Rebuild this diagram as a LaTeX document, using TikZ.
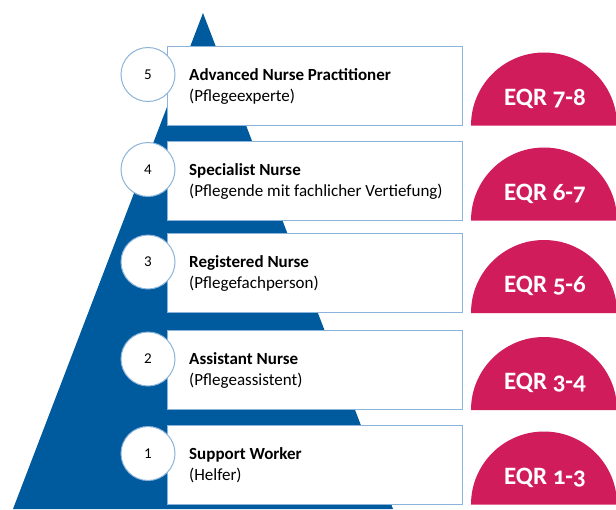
\documentclass[tikz,border=0pt]{standalone}
\usepackage{fontspec}
\setmainfont{Carlito}
\newfontfamily\eqrfont[Numbers=OldStyle]{Carlito}
\definecolor{pyrblue}{HTML}{005A9E}
\definecolor{eqrred}{HTML}{D01C5B}
\definecolor{rimblue}{HTML}{8CB4DA}
\begin{document}
\begin{tikzpicture}[x=1pt,y=-1pt,
    levelbox/.style={draw=rimblue,fill=white,line width=1pt,minimum width=295pt,minimum height=79pt,inner sep=0pt},
    numcirc/.style={circle,draw=rimblue,fill=white,line width=1pt,minimum size=54pt,inner sep=0pt,font=\fontsize{15}{17}\selectfont},
    lvltext/.style={anchor=west,align=left,inner sep=0pt,font=\fontsize{17}{21}\selectfont},
    eqrtext/.style={text=white,inner sep=0pt,font=\eqrfont\bfseries\fontsize{25}{27}\selectfont}]
  \useasboundingbox (0,0) rectangle (616,509);
  \begin{scope}
    \clip (0,0) rectangle (616,509);
    \fill[pyrblue] (203,13) -- (13,509) -- (393,509) -- cycle;
  \end{scope}
  \foreach \n/\y/\title/\sub/\eqr in {5/85.5/Advanced Nurse Practitioner/Pflegeexperte/7-8,
      4/180.5/Specialist Nurse/Pflegende mit fachlicher Vertiefung/6-7,
      3/273/Registered Nurse/Pflegefachperson/5-6,
      2/370/Assistant Nurse/Pflegeassistent/3-4,
      1/464.5/Support Worker/Helfer/1-3}{%
    \node[levelbox] (box\n) at (314.5,\y) {};
    \node[numcirc] (num\n) at (148,\y-11) {\n};
    \node[lvltext] (txt\n) at (189,\y+0.5) {\textbf{\title}\\(\sub)};
    \fill[eqrred] (617,\y+40) arc[start angle=0,end angle=180,radius=73pt] -- cycle;
    \node[eqrtext] (eqr\n) at (545,\y+13) {EQR \eqr};
  }
\end{tikzpicture}
\end{document}
